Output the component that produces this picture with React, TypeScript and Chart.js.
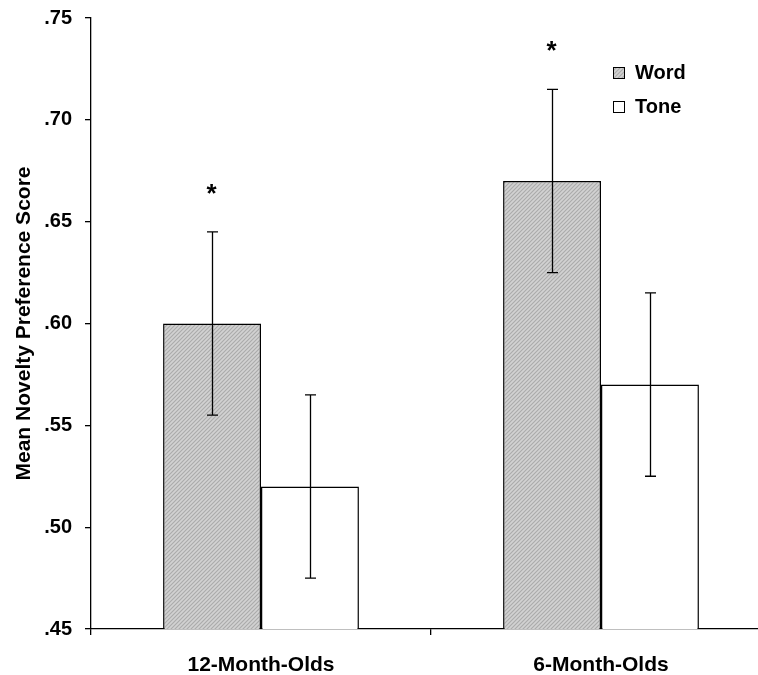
import React, { useEffect, useRef } from "react";
import { Chart, registerables } from "chart.js";

Chart.register(...registerables);

const categories = ["12-Month-Olds", "6-Month-Olds"];
const seriesNames = ["Word", "Tone"];
const wordValues = [0.6, 0.67];
const toneValues = [0.52, 0.57];
const wordErrors = [0.045, 0.045];
const toneErrors = [0.045, 0.045];
const wordSignificant = [true, true];
const toneSignificant = [false, false];
const yTicks = [0.45, 0.5, 0.55, 0.6, 0.65, 0.7, 0.75];

const FONT = "'Liberation Sans', Arial, sans-serif";

function makePattern(): CanvasPattern | string {
  const c = document.createElement("canvas");
  c.width = 4;
  c.height = 4;
  const g = c.getContext("2d");
  if (!g) return "#c0c0c0";
  g.fillStyle = "#c6c6c6";
  g.fillRect(0, 0, 4, 4);
  g.fillStyle = "#acacac";
  for (let i = 0; i < 4; i++) {
    g.fillRect(i, 3 - i, 1, 1);
  }
  g.fillStyle = "#d2d2d2";
  for (let i = 0; i < 4; i++) {
    g.fillRect(i, (5 - i) % 4, 1, 1);
  }
  const p = g.createPattern(c, "repeat");
  return p || "#c0c0c0";
}

export default function App() {
  const ref = useRef<HTMLCanvasElement>(null);

  useEffect(() => {
    if (!ref.current) return;
    document.body.style.overflow = "hidden";
    const pattern = makePattern();
    const errors = [wordErrors, toneErrors];
    const signif = [wordSignificant, toneSignificant];

    const errorPlugin = {
      id: "errorBars",
      afterDatasetsDraw(chart: any) {
        const ctx = chart.ctx;
        const y = chart.scales.y;
        ctx.save();
        ctx.strokeStyle = "#000";
        ctx.lineWidth = 1.3;
        chart.data.datasets.forEach((ds: any, di: number) => {
          const meta = chart.getDatasetMeta(di);
          meta.data.forEach((bar: any, i: number) => {
            const v = ds.data[i];
            const e = errors[di][i];
            const x = Math.round(bar.x) + 0.5;
            const yt = y.getPixelForValue(v + e);
            const yb = y.getPixelForValue(v - e);
            ctx.beginPath();
            ctx.moveTo(x, yt);
            ctx.lineTo(x, yb);
            ctx.moveTo(x - 5.5, yt);
            ctx.lineTo(x + 5.5, yt);
            ctx.moveTo(x - 5.5, yb);
            ctx.lineTo(x + 5.5, yb);
            ctx.stroke();
            if (signif[di][i]) {
              ctx.fillStyle = "#000";
              ctx.font = `bold 26px ${FONT}`;
              ctx.textAlign = "center";
              ctx.textBaseline = "alphabetic";
              ctx.fillText("*", x - 1, yt - 30);
            }
          });
        });
        ctx.restore();
      },
    };

    const legendPlugin = {
      id: "insideLegend",
      afterDraw(chart: any) {
        const ctx = chart.ctx;
        const area = chart.chartArea;
        const bx = area.right - 158;
        let by = area.top + 49;
        ctx.save();
        chart.data.datasets.forEach((ds: any) => {
          ctx.fillStyle = ds.backgroundColor;
          ctx.fillRect(bx, by, 11, 11);
          ctx.strokeStyle = "#000";
          ctx.lineWidth = 1;
          ctx.strokeRect(bx + 0.5, by + 0.5, 11, 11);
          ctx.fillStyle = "#000";
          ctx.font = `bold 20px ${FONT}`;
          ctx.textAlign = "left";
          ctx.textBaseline = "middle";
          ctx.fillText(ds.label, bx + 22, by + 6);
          by += 34;
        });
        ctx.restore();
      },
    };

    const chart = new Chart(ref.current, {
      type: "bar",
      data: {
        labels: categories,
        datasets: [
          {
            label: seriesNames[0],
            data: wordValues,
            backgroundColor: pattern as any,
            borderColor: "#000",
            borderWidth: 1.5,
            borderSkipped: false,
          },
          {
            label: seriesNames[1],
            data: toneValues,
            backgroundColor: "#ffffff",
            borderColor: "#000",
            borderWidth: 1.5,
            borderSkipped: false,
          },
        ],
      },
      options: {
        animation: false,
        responsive: false,
        maintainAspectRatio: false,
        layout: { padding: { top: 18, right: 0, bottom: 0, left: 0 } },
        datasets: { bar: { barPercentage: 1, categoryPercentage: 0.576 } },
        plugins: {
          legend: { display: false },
          tooltip: { enabled: false },
        },
        scales: {
          x: {
            offset: true,
            afterFit: (s: any) => {
              s.height = 46;
              s.paddingLeft = 0;
              s.paddingRight = 0;
            },
            grid: {
              offset: true,
              drawOnChartArea: false,
              drawTicks: true,
              tickLength: 6,
              color: "#000",
              lineWidth: 1.3,
            },
            border: { display: true, color: "#000", width: 1.3 },
            ticks: {
              color: "#000",
              font: { family: FONT, size: 21, weight: "bold" },
              padding: 18,
              maxRotation: 0,
            },
          },
          y: {
            min: 0.45,
            max: 0.75,
            afterFit: (s: any) => {
              s.width = 91;
              s.paddingTop = 0;
              s.paddingBottom = 0;
            },
            afterBuildTicks: (s: any) => {
              s.ticks = yTicks.map((v) => ({ value: v }));
            },
            grid: {
              drawOnChartArea: false,
              drawTicks: true,
              tickLength: 6,
              color: "#000",
              lineWidth: 1.3,
            },
            border: { display: true, color: "#000", width: 1.3 },
            ticks: {
              color: "#000",
              font: { family: FONT, size: 20, weight: "bold" },
              padding: 13,
              callback: (v: any) => Number(v).toFixed(2).replace(/^0/, ""),
            },
            title: {
              display: true,
              text: "Mean Novelty Preference Score",
              color: "#000",
              font: { family: FONT, size: 21, weight: "bold" },
              padding: { top: 12, bottom: 0 },
            },
          },
        },
      },
      plugins: [errorPlugin, legendPlugin],
    });
    return () => chart.destroy();
  }, []);

  return (
    <div
      style={{
        position: "fixed",
        left: 0,
        top: 0,
        width: 758,
        height: 675,
        overflow: "hidden",
        background: "#fff",
      }}
    >
      <canvas ref={ref} width={771} height={675} style={{ display: "block" }} />
    </div>
  );
}
